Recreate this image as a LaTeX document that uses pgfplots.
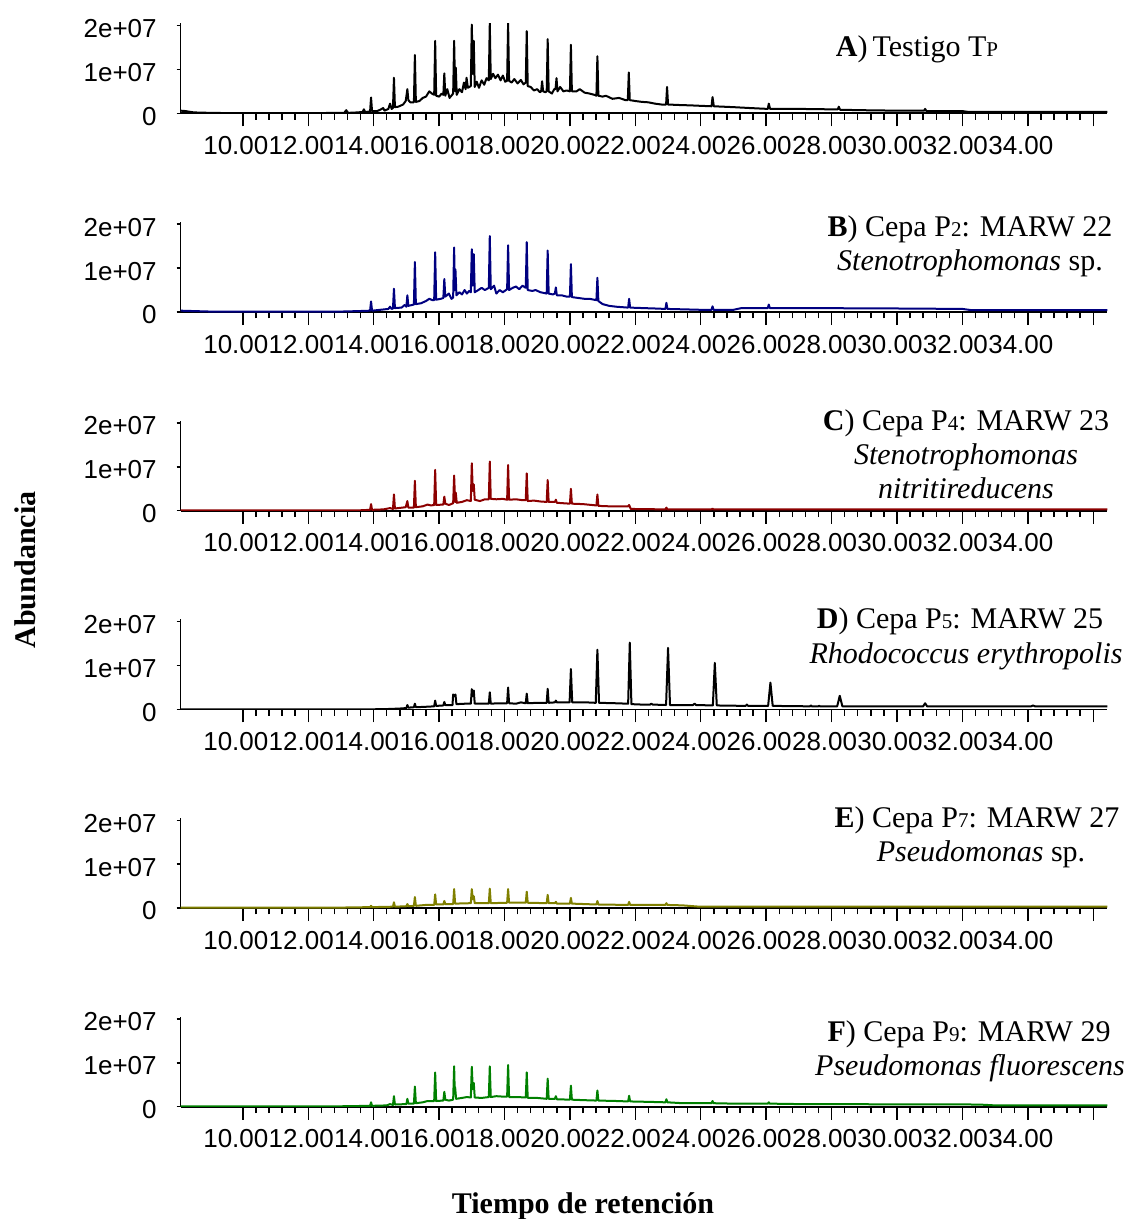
\documentclass[border=0pt]{standalone}
\usepackage{pgfplots}
\pgfplotsset{compat=1.18}
\usepackage{fontspec}
\setmainfont{Liberation Serif}
\newfontfamily\arialfont{Liberation Sans}
\definecolor{cA}{RGB}{0,0,0}
\definecolor{cB}{RGB}{0,0,128}
\definecolor{cC}{RGB}{140,0,0}
\definecolor{cD}{RGB}{0,0,0}
\definecolor{cE}{RGB}{128,128,0}
\definecolor{cF}{RGB}{0,128,0}

\pgfplotsset{chrom/.style={
  width=463.3pt, height=45pt, scale only axis,
  xmin=8.1, xmax=36.43, ymin=0, ymax=2.05,
  axis x line*=bottom, axis y line*=left,
  axis line style={line width=0.8pt},
  xtick={10,12,...,36},
  xticklabels={10.00,12.00,14.00,16.00,18.00,20.00,22.00,24.00,26.00,28.00,30.00,32.00,34.00,{}},
  minor x tick num=4,
  ytick={0,1,2}, yticklabels={0,1e+07,2e+07},
  tick align=outside, major tick length=6.5pt, minor tick length=3.2pt,
  tick style={line width=0.7pt, black},
  ytick style={/pgfplots/major tick length=2pt},
  ticklabel style={font=\arialfont\fontsize{13}{13}\selectfont},
  xticklabel style={xshift=-3.5pt, yshift=-1.5pt},
  yticklabel style={yshift=-1.5pt, xshift=-2pt},
  every axis plot/.append style={line width=1pt, line join=round, no markers},
}}

\begin{document}
\begin{tikzpicture}
\useasboundingbox (0,0) rectangle (565pt,-609.5pt);

% ---------------- A ----------------
\begin{axis}[chrom, at={(90.35pt,-56.65pt)}, anchor=south west]
\addplot[cA] table {
x y
8.1 0.06
8.25 0.05
8.5 0.02
9.0 0.01
10.0 0.0
12.0 0.0
12.8 0.01
13.1 0.01
13.16 0.07
13.22 0.01
13.5 0.02
13.66 0.03
13.7 0.09
13.74 0.03
13.89 0.04
13.92 0.36
13.95 0.05
14.1 0.05
14.2 0.08
14.29 0.12
14.33 0.06
14.45 0.1
14.5 0.22
14.55 0.1
14.59 0.12
14.62 0.81
14.65 0.14
14.75 0.15
14.9 0.2
14.98 0.28
15.03 0.55
15.06 0.3
15.12 0.25
15.23 0.25
15.26 1.33
15.29 0.26
15.4 0.28
15.5 0.35
15.6 0.38
15.7 0.5
15.78 0.45
15.85 0.42
15.88 1.65
15.91 0.4
16.0 0.38
16.08 0.45
16.13 0.42
16.16 0.91
16.19 0.4
16.25 0.55
16.32 0.35
16.43 0.45
16.46 1.65
16.49 0.5
16.51 1.04
16.54 0.42
16.62 0.55
16.7 0.48
16.76 0.7
16.81 0.55
16.84 0.81
16.88 0.58
16.97 0.62
17.0 2.02
17.03 0.9
17.06 1.65
17.09 0.6
17.15 0.72
17.22 0.58
17.3 0.75
17.38 0.65
17.45 0.8
17.52 0.75
17.55 2.05
17.58 0.78
17.65 0.9
17.72 0.8
17.8 0.88
17.88 0.75
17.95 0.86
18.02 0.72
18.08 0.74
18.11 2.05
18.14 0.74
18.22 0.7
18.3 0.78
18.4 0.68
18.5 0.76
18.58 0.66
18.65 0.7
18.68 1.87
18.71 0.62
18.8 0.6
18.9 0.52
19.0 0.55
19.08 0.48
19.12 0.5
19.15 0.73
19.18 0.5
19.25 0.48
19.29 0.5
19.32 1.69
19.35 0.5
19.45 0.45
19.52 0.55
19.56 0.55
19.59 0.8
19.62 0.5
19.7 0.6
19.8 0.5
19.9 0.52
20.0 0.5
20.03 1.56
20.06 0.5
20.2 0.5
20.3 0.55
20.45 0.47
20.6 0.45
20.75 0.42
20.81 0.4
20.84 1.30
20.87 0.4
21.0 0.38
21.1 0.4
21.3 0.33
21.5 0.35
21.7 0.3
21.77 0.3
21.8 0.93
21.83 0.3
22.0 0.28
22.2 0.26
22.4 0.25
22.6 0.22
22.8 0.2
22.94 0.2
22.97 0.6
23.0 0.2
23.3 0.19
23.7 0.18
24.0 0.17
24.33 0.16
24.36 0.37
24.4 0.16
25.0 0.14
25.5 0.12
26.05 0.1
26.08 0.22
26.12 0.1
27.0 0.1
28.0 0.09
28.19 0.09
28.22 0.15
28.26 0.08
29.0 0.07
30.0 0.06
30.83 0.06
30.86 0.1
30.9 0.05
32.0 0.05
32.2 0.03
34.0 0.03
36.43 0.03
};
\end{axis}

% ---------------- B ----------------
\begin{axis}[chrom, at={(90.35pt,-156pt)}, anchor=south west]
\addplot[cB] table {
x y
8.1 0.03
9.0 0.01
13.0 0.01
13.5 0.02
13.89 0.03
13.92 0.24
13.95 0.03
14.2 0.05
14.45 0.07
14.5 0.12
14.55 0.07
14.59 0.08
14.62 0.53
14.65 0.09
14.85 0.1
14.95 0.16
15.0 0.12
15.03 0.38
15.06 0.14
15.23 0.17
15.26 1.14
15.29 0.18
15.45 0.2
15.6 0.25
15.7 0.3
15.8 0.27
15.85 0.27
15.88 1.36
15.91 0.28
16.05 0.3
16.13 0.32
16.16 0.75
16.19 0.35
16.3 0.42
16.38 0.3
16.43 0.33
16.46 1.47
16.48 0.5
16.5 0.97
16.53 0.38
16.62 0.45
16.7 0.4
16.78 0.5
16.85 0.42
16.92 0.48
16.97 0.45
17.0 1.43
17.03 0.6
17.06 1.32
17.09 0.45
17.2 0.5
17.3 0.55
17.4 0.5
17.52 0.55
17.55 1.73
17.58 0.52
17.68 0.6
17.75 0.42
17.85 0.5
17.95 0.45
18.08 0.52
18.11 1.52
18.14 0.5
18.25 0.55
18.35 0.58
18.45 0.52
18.55 0.6
18.65 0.55
18.68 1.59
18.71 0.5
18.85 0.48
18.95 0.5
19.1 0.45
19.29 0.42
19.32 1.40
19.35 0.42
19.48 0.4
19.54 0.42
19.57 0.56
19.6 0.38
19.75 0.38
19.9 0.35
20.0 0.35
20.03 1.09
20.06 0.34
20.25 0.32
20.45 0.3
20.6 0.3
20.81 0.27
20.84 0.78
20.87 0.25
21.0 0.18
21.2 0.14
21.42 0.12
21.78 0.1
21.81 0.30
21.84 0.1
22.2 0.09
22.6 0.08
22.92 0.07
22.95 0.21
22.98 0.07
23.5 0.06
24.0 0.05
24.33 0.05
24.36 0.13
24.39 0.05
25.0 0.05
25.25 0.09
26.05 0.09
26.08 0.17
26.11 0.09
27.0 0.09
30.0 0.08
32.0 0.07
32.3 0.04
36.43 0.04
};
\end{axis}

% ---------------- C ----------------
\begin{axis}[chrom, at={(90.35pt,-255.35pt)}, anchor=south west]
\addplot[cC] table {
x y
8.1 0.01
13.0 0.01
13.6 0.01
13.89 0.02
13.92 0.15
13.95 0.02
14.3 0.03
14.5 0.06
14.59 0.04
14.62 0.37
14.65 0.05
14.98 0.08
15.03 0.22
15.06 0.07
15.23 0.07
15.26 0.68
15.29 0.08
15.5 0.1
15.65 0.14
15.75 0.12
15.85 0.13
15.88 0.93
15.91 0.13
16.13 0.14
16.16 0.32
16.19 0.16
16.3 0.13
16.43 0.17
16.46 0.80
16.49 0.2
16.51 0.41
16.54 0.18
16.7 0.2
16.85 0.24
16.97 0.22
17.0 1.08
17.03 0.45
17.06 0.6
17.09 0.25
17.25 0.22
17.4 0.26
17.52 0.26
17.55 1.12
17.58 0.27
17.75 0.26
17.95 0.27
18.08 0.25
18.11 1.04
18.14 0.25
18.35 0.26
18.55 0.24
18.65 0.24
18.68 0.85
18.71 0.22
18.9 0.23
19.1 0.21
19.29 0.2
19.32 0.70
19.35 0.2
19.54 0.2
19.57 0.25
19.6 0.18
19.8 0.17
20.0 0.16
20.03 0.5
20.06 0.16
20.4 0.15
20.81 0.12
20.84 0.37
20.87 0.11
21.2 0.1
21.6 0.1
21.78 0.1
21.81 0.13
21.86 0.04
22.92 0.03
22.95 0.07
22.98 0.03
24.33 0.03
24.36 0.05
24.39 0.03
36.43 0.03
};
\end{axis}

% ---------------- D ----------------
\begin{axis}[chrom, at={(90.35pt,-354.7pt)}, anchor=south west]
\addplot[cD] table {
x y
8.1 0.0
13.8 0.0
14.5 0.01
14.8 0.02
15.0 0.03
15.03 0.1
15.06 0.04
15.23 0.05
15.26 0.13
15.29 0.05
15.6 0.06
15.85 0.07
15.88 0.2
15.91 0.08
16.13 0.09
16.16 0.17
16.19 0.1
16.41 0.1
16.43 0.34
16.47 0.3
16.5 0.34
16.53 0.12
16.8 0.13
16.97 0.13
17.0 0.46
17.03 0.3
17.06 0.43
17.09 0.13
17.3 0.13
17.52 0.13
17.55 0.39
17.58 0.13
17.8 0.14
18.08 0.14
18.11 0.5
18.14 0.14
18.35 0.13
18.5 0.16
18.65 0.14
18.68 0.36
18.71 0.14
19.0 0.15
19.29 0.15
19.32 0.47
19.35 0.15
19.54 0.16
19.57 0.2
19.6 0.16
19.99 0.16
20.03 0.92
20.07 0.16
20.5 0.16
20.79 0.15
20.84 1.36
20.89 0.15
21.4 0.14
21.78 0.13
21.83 1.52
21.88 0.12
22.2 0.11
22.45 0.11
22.49 0.13
22.53 0.11
22.94 0.1
23.0 1.40
23.06 0.1
23.76 0.1
23.81 0.13
23.86 0.1
24.37 0.09
24.43 1.06
24.49 0.09
25.37 0.08
25.41 0.11
25.45 0.08
26.06 0.08
26.13 0.61
26.2 0.08
27.34 0.07
27.37 0.09
27.4 0.07
27.59 0.07
27.62 0.08
27.65 0.07
28.17 0.07
28.25 0.31
28.33 0.07
29.5 0.07
30.8 0.07
30.86 0.14
30.92 0.07
34.1 0.07
34.16 0.09
34.22 0.07
36.43 0.07
};
\end{axis}

% ---------------- E ----------------
\begin{axis}[chrom, at={(90.35pt,-454pt)}, anchor=south west]
\addplot[cE] table {
x y
8.1 0.01
13.0 0.01
13.89 0.02
13.92 0.05
13.95 0.02
14.59 0.03
14.62 0.13
14.65 0.03
15.0 0.04
15.03 0.09
15.06 0.04
15.23 0.05
15.26 0.25
15.29 0.05
15.6 0.07
15.85 0.07
15.88 0.31
15.91 0.08
16.13 0.08
16.16 0.16
16.19 0.09
16.43 0.09
16.46 0.43
16.49 0.1
16.97 0.11
17.0 0.43
17.03 0.2
17.06 0.27
17.09 0.11
17.52 0.11
17.55 0.44
17.58 0.11
18.08 0.12
18.11 0.43
18.14 0.12
18.65 0.12
18.68 0.37
18.71 0.12
19.29 0.11
19.32 0.30
19.35 0.11
19.54 0.11
19.57 0.14
19.6 0.1
20.0 0.1
20.03 0.23
20.06 0.1
20.81 0.08
20.84 0.16
20.87 0.08
21.78 0.07
21.81 0.14
21.84 0.07
22.92 0.07
22.95 0.11
22.98 0.07
23.45 0.06
23.96 0.03
36.43 0.03
};
\end{axis}

% ---------------- F ----------------
\begin{axis}[chrom, at={(90.35pt,-553.35pt)}, anchor=south west]
\addplot[cF] table {
x y
8.1 0.01
13.0 0.01
13.89 0.02
13.92 0.1
13.95 0.02
14.4 0.03
14.5 0.06
14.59 0.04
14.62 0.24
14.65 0.05
15.0 0.06
15.03 0.18
15.06 0.07
15.23 0.07
15.26 0.46
15.29 0.08
15.5 0.1
15.65 0.13
15.85 0.13
15.88 0.78
15.91 0.13
16.13 0.14
16.16 0.34
16.19 0.16
16.3 0.14
16.43 0.16
16.46 0.92
16.48 0.3
16.49 0.45
16.52 0.18
16.7 0.2
16.85 0.22
16.97 0.21
17.0 0.91
17.03 0.4
17.06 0.54
17.09 0.21
17.3 0.2
17.52 0.22
17.55 0.92
17.58 0.22
17.75 0.24
17.95 0.23
18.08 0.23
18.11 0.95
18.14 0.22
18.4 0.22
18.65 0.21
18.68 0.78
18.71 0.2
19.0 0.2
19.29 0.18
19.32 0.64
19.35 0.18
19.54 0.18
19.57 0.24
19.6 0.17
20.0 0.16
20.03 0.48
20.06 0.16
20.4 0.15
20.81 0.14
20.84 0.37
20.87 0.14
21.42 0.13
21.78 0.12
21.81 0.25
21.84 0.12
22.44 0.11
22.92 0.1
22.95 0.17
22.98 0.1
23.45 0.08
24.33 0.08
24.36 0.13
24.39 0.08
25.0 0.07
26.05 0.07
26.08 0.1
26.11 0.07
27.0 0.06
32.5 0.05
33.0 0.03
36.43 0.03
};
\end{axis}

% ---------------- titles ----------------
\newcommand{\sm}[1]{{\fontsize{10.5}{10}\selectfont #1}}
\tikzset{ttl/.style={anchor=base, inner sep=0pt, font=\fontsize{15}{17}\selectfont}}
\node[ttl] at (458.5pt,-28.5pt) {\textbf{A})\,Testigo T\sm{P}};

\node[ttl] at (485pt,-118.5pt) {\textbf{B}) Cepa P\sm{2}: MARW 22};
\node[ttl] at (485pt,-135.5pt) {\textit{Stenotrophomonas} sp.};

\node[ttl] at (483pt,-215pt) {\textbf{C}) Cepa P\sm{4}: MARW 23};
\node[ttl] at (483pt,-232pt) {\textit{Stenotrophomonas}};
\node[ttl] at (483pt,-249pt) {\textit{nitritireducens}};

\node[ttl] at (480pt,-314pt) {\textbf{D}) Cepa P\sm{5}: MARW 25};
\node[ttl] at (483pt,-331.5pt) {\textit{Rhodococcus erythropolis}};

\node[ttl] at (488.5pt,-413.5pt) {\textbf{E}) Cepa P\sm{7}: MARW 27};
\node[ttl] at (490.5pt,-430.5pt) {\textit{Pseudomonas} sp.};

\node[ttl] at (484.5pt,-520.5pt) {\textbf{F}) Cepa P\sm{9}: MARW 29};
\node[ttl] at (485pt,-537.5pt) {\textit{Pseudomonas fluorescens}};

\node[rotate=90, anchor=center, inner sep=0pt, font=\bfseries\fontsize{15}{17}\selectfont] at (12.5pt,-285pt) {Abundancia};
\node[anchor=base, inner sep=0pt, font=\bfseries\fontsize{15}{17}\selectfont] at (291.5pt,-606.5pt) {Tiempo de retención};
\end{tikzpicture}
\end{document}
